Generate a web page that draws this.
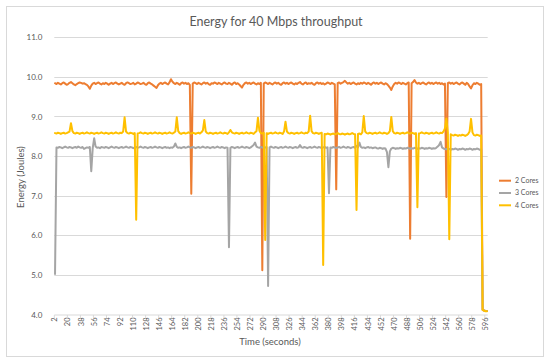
<!DOCTYPE html>
<html lang="en">
  <head>
    <meta charset="utf-8" />
    <title>Energy for 40 Mbps throughput</title>
    <script src="https://d3js.org/d3.v7.min.js"></script>
    <style type="text/css">
      body {
        margin: 0;
        background: #fff;
      }
      text {
        font-family: Lato, "Open Sans", sans-serif;
        fill: #595959;
      }
    </style>
  </head>
  <body>
    <script type="text/javascript">
      // time in seconds, one reading every 2 s
      var times = d3.range(2, 599, 2);
      var xTickLabels = d3.range(2, 597, 18);
      var yTickLabels = [4, 5, 6, 7, 8, 9, 10, 11];
      var seriesNames = ["2 Cores", "3 Cores", "4 Cores"];
      var seriesColors = ["#ED7D31", "#A5A5A5", "#FFC000"];

      var cores2 = [
        9.84, 9.82, 9.85, 9.83, 9.81, 9.84, 9.86, 9.83, 9.80, 9.82, 9.85, 9.87, 9.84, 9.81, 9.79, 9.82, 9.84, 9.86, 9.85, 9.83,
        9.84, 9.82, 9.80, 9.76, 9.70, 9.78, 9.83, 9.85, 9.82, 9.84, 9.86, 9.83, 9.81, 9.84, 9.82, 9.85, 9.83, 9.80, 9.83, 9.85,
        9.82, 9.84, 9.86, 9.83, 9.81, 9.83, 9.85, 9.82, 9.80, 9.84, 9.86, 9.84, 9.82, 9.83, 9.85, 9.81, 9.83, 9.86, 9.84, 9.82,
        9.83, 9.85, 9.82, 9.80, 9.84, 9.86, 9.83, 9.81, 9.78, 9.75, 9.72, 9.79, 9.83, 9.85, 9.82, 9.84, 9.86, 9.83, 9.81, 9.86,
        9.94, 9.88, 9.84, 9.82, 9.85, 9.83, 9.80, 9.84, 9.86, 9.83, 9.85, 9.82, 9.84, 9.80, 7.05, 9.83, 9.86, 9.84, 9.82, 9.85,
        9.83, 9.81, 9.84, 9.86, 9.83, 9.85, 9.82, 9.80, 9.84, 9.83, 9.86, 9.84, 9.82, 9.85, 9.83, 9.81, 9.84, 9.86, 9.83, 9.82,
        9.85, 9.83, 9.80, 9.84, 9.86, 9.82, 9.84, 9.81, 9.77, 9.73, 9.80, 9.84, 9.86, 9.83, 9.85, 9.82, 9.84, 9.86, 9.83, 9.81,
        9.84, 9.82, 9.85, 5.12, 9.83, 9.86, 9.84, 9.82, 9.85, 9.83, 9.81, 9.84, 9.86, 9.83, 9.85, 9.82, 9.80, 9.84, 9.86, 9.83,
        9.85, 9.82, 9.84, 9.86, 9.83, 9.81, 9.84, 9.82, 9.85, 9.87, 9.83, 9.81, 9.84, 9.86, 9.82, 9.84, 9.83, 9.85, 9.82, 9.80,
        9.84, 9.86, 9.83, 9.85, 9.82, 9.84, 9.81, 9.83, 9.86, 9.84, 9.82, 9.85, 9.83, 9.81, 7.16, 9.84, 9.86, 9.83, 9.85, 9.87,
        9.90, 9.86, 9.83, 9.85, 9.82, 9.84, 9.86, 9.83, 9.81, 9.84, 9.82, 9.85, 9.83, 9.86, 9.84, 9.82, 9.85, 9.83, 9.80, 9.84,
        9.86, 9.83, 9.85, 9.82, 9.84, 9.86, 9.83, 9.81, 9.84, 9.82, 9.78, 9.73, 9.67, 9.76, 9.82, 9.85, 9.83, 9.86, 9.84, 9.82,
        9.85, 9.83, 9.81, 9.84, 9.86, 5.91, 9.84, 9.87, 9.92, 9.86, 9.83, 9.85, 9.82, 9.84, 9.86, 9.83, 9.81, 9.84, 9.86, 9.83,
        9.85, 9.82, 9.84, 9.86, 9.83, 9.85, 9.82, 9.84, 9.81, 9.83, 6.97, 9.84, 9.86, 9.83, 9.85, 9.82, 9.84, 9.86, 9.83, 9.81,
        9.84, 9.86, 9.83, 9.80, 9.85, 9.82, 9.76, 9.71, 9.79, 9.84, 9.82, 9.85, 9.83, 9.80, 9.82, 4.12, 4.10, 4.09, 4.09
      ];

      var cores3 = [
        5.02, 8.22, 8.21, 8.23, 8.22, 8.20, 8.22, 8.24, 8.22, 8.21, 8.23, 8.22, 8.20, 8.22, 8.23, 8.21, 8.24, 8.22, 8.21, 8.23,
        8.18, 8.20, 8.22, 8.21, 8.23, 7.62, 8.20, 8.45, 8.24, 8.21, 8.22, 8.20, 8.23, 8.22, 8.21, 8.23, 8.22, 8.20, 8.22, 8.24,
        8.22, 8.21, 8.23, 8.22, 8.20, 8.22, 8.23, 8.21, 8.22, 8.24, 8.22, 8.21, 8.23, 8.22, 8.20, 8.22, 8.23, 8.21, 8.22, 8.24,
        8.22, 8.21, 8.23, 8.22, 8.20, 8.22, 8.23, 8.21, 8.22, 8.24, 8.22, 8.21, 8.23, 8.22, 8.20, 8.22, 8.23, 8.21, 8.22, 8.20,
        8.22, 8.21, 8.24, 8.32, 8.23, 8.21, 8.22, 8.20, 8.22, 8.23, 8.21, 8.22, 8.24, 8.22, 8.21, 8.23, 8.22, 8.20, 8.22, 8.23,
        8.21, 8.22, 8.24, 8.22, 8.21, 8.23, 8.22, 8.20, 8.22, 8.23, 8.21, 8.22, 8.24, 8.22, 8.21, 8.23, 8.22, 8.20, 8.22, 8.21,
        5.70, 8.21, 8.23, 8.22, 8.20, 8.22, 8.23, 8.21, 8.22, 8.24, 8.22, 8.21, 8.23, 8.22, 8.20, 8.22, 8.25, 8.28, 8.34, 8.24,
        8.22, 8.21, 8.23, 8.22, 8.20, 8.22, 8.23, 4.72, 8.22, 8.24, 8.22, 8.21, 8.23, 8.22, 8.20, 8.22, 8.23, 8.21, 8.22, 8.24,
        8.22, 8.21, 8.23, 8.22, 8.20, 8.22, 8.23, 8.21, 8.22, 8.28, 8.22, 8.21, 8.23, 8.22, 8.20, 8.22, 8.23, 8.21, 8.22, 8.24,
        8.22, 8.21, 8.23, 8.22, 8.20, 8.22, 8.23, 8.21, 8.22, 7.06, 8.22, 8.21, 8.23, 8.22, 8.20, 8.22, 8.23, 8.21, 8.22, 8.24,
        8.22, 8.21, 8.23, 8.22, 8.20, 8.22, 8.23, 8.21, 8.26, 8.22, 8.34, 8.23, 8.21, 8.22, 8.20, 8.22, 8.23, 8.21, 8.22, 8.20,
        8.21, 8.22, 8.20, 8.19, 8.21, 8.20, 8.18, 8.20, 8.19, 8.10, 7.72, 8.12, 8.19, 8.21, 8.20, 8.18, 8.20, 8.19, 8.21, 8.20,
        8.18, 8.20, 8.19, 8.21, 8.20, 8.18, 8.20, 8.19, 8.21, 8.20, 8.18, 8.20, 8.19, 8.21, 8.20, 8.18, 8.20, 8.19, 8.21, 8.20,
        8.18, 8.20, 8.19, 8.21, 8.24, 8.28, 8.36, 8.22, 8.19, 8.18, 8.17, 8.19, 8.18, 8.16, 8.18, 8.17, 8.19, 8.18, 8.16, 8.18,
        8.17, 8.19, 8.18, 8.16, 8.18, 8.17, 8.19, 8.18, 8.16, 8.18, 8.17, 8.19, 8.18, 8.16, 8.17, 4.12, 4.10, 4.09, 4.09
      ];

      var cores4 = [
        8.58, 8.57, 8.59, 8.58, 8.56, 8.58, 8.59, 8.57, 8.58, 8.60, 8.62, 8.83, 8.63, 8.58, 8.57, 8.59, 8.58, 8.56, 8.58, 8.59,
        8.57, 8.58, 8.60, 8.58, 8.57, 8.59, 8.58, 8.56, 8.58, 8.59, 8.57, 8.58, 8.60, 8.58, 8.57, 8.59, 8.58, 8.56, 8.58, 8.59,
        8.57, 8.58, 8.60, 8.58, 8.57, 8.59, 8.58, 8.62, 8.98, 8.62, 8.58, 8.57, 8.59, 8.58, 8.56, 8.58, 6.39, 8.57, 8.58, 8.60,
        8.58, 8.57, 8.59, 8.58, 8.56, 8.58, 8.59, 8.57, 8.58, 8.60, 8.58, 8.57, 8.59, 8.58, 8.56, 8.58, 8.59, 8.57, 8.58, 8.60,
        8.58, 8.57, 8.59, 8.62, 8.98, 8.63, 8.58, 8.56, 8.58, 8.59, 8.57, 8.58, 8.60, 8.58, 8.57, 8.59, 8.58, 8.56, 8.58, 8.59,
        8.57, 8.60, 8.65, 8.91, 8.62, 8.58, 8.57, 8.59, 8.58, 8.56, 8.58, 8.59, 8.57, 8.58, 8.60, 8.58, 8.57, 8.59, 8.58, 8.56,
        8.60, 8.66, 8.60, 8.58, 8.57, 8.59, 8.58, 8.56, 8.58, 8.59, 8.57, 8.58, 8.60, 8.58, 8.57, 8.59, 8.58, 8.56, 8.60, 8.63,
        8.97, 8.64, 8.58, 8.57, 8.59, 5.88, 8.58, 8.56, 8.58, 8.59, 8.57, 8.58, 8.60, 8.58, 8.57, 8.59, 8.58, 8.56, 8.62, 8.87,
        8.62, 8.58, 8.57, 8.59, 8.58, 8.56, 8.58, 8.59, 8.57, 8.58, 8.60, 8.58, 8.57, 8.59, 8.58, 8.62, 9.02, 8.63, 8.58, 8.57,
        8.59, 8.58, 8.56, 8.58, 8.59, 5.25, 8.56, 8.55, 8.57, 8.56, 8.54, 8.56, 8.57, 8.55, 8.56, 8.58, 8.56, 8.55, 8.57, 8.56,
        8.54, 8.56, 8.57, 8.55, 8.56, 8.58, 8.56, 8.55, 6.64, 8.56, 8.57, 8.55, 8.60, 9.01, 8.62, 8.58, 8.57, 8.59, 8.58, 8.56,
        8.58, 8.59, 8.57, 8.58, 8.60, 8.58, 8.57, 8.59, 8.58, 8.56, 8.58, 8.63, 8.99, 8.63, 8.58, 8.57, 8.59, 8.58, 8.56, 8.58,
        8.59, 8.57, 8.58, 8.60, 8.58, 8.57, 8.59, 8.58, 8.56, 8.58, 6.71, 8.57, 8.58, 8.60, 8.58, 8.57, 8.59, 8.58, 8.56, 8.58,
        8.59, 8.57, 8.58, 8.60, 8.58, 8.57, 8.59, 8.58, 8.62, 8.70, 8.95, 8.60, 5.90, 8.55, 8.53, 8.52, 8.54, 8.53, 8.51, 8.53,
        8.52, 8.54, 8.53, 8.51, 8.53, 8.56, 8.62, 8.94, 8.60, 8.53, 8.52, 8.54, 8.53, 8.51, 8.52, 4.12, 4.10, 4.08, 4.08
      ];

      var allSeries = [cores2, cores3, cores4];

      var w = 550;
      var h = 363;
      var plot = { left: 54.3, right: 487.7, top: 37.3, bottom: 314.5 };

      var svg = d3
        .select("body")
        .append("svg")
        .attr("width", w)
        .attr("height", h);

      svg
        .append("rect")
        .attr("width", w)
        .attr("height", h)
        .attr("fill", "#fff");

      // chart frame
      svg
        .append("rect")
        .attr("x", 6.5)
        .attr("y", 6.5)
        .attr("width", 537)
        .attr("height", 350)
        .attr("fill", "none")
        .attr("stroke", "#d9d9d9");

      var xScale = d3
        .scaleBand()
        .domain(times)
        .range([plot.left, plot.right]);

      var yScale = d3
        .scaleLinear()
        .domain([4, 11])
        .range([plot.bottom, plot.top]);

      var xMid = function (t) {
        return xScale(t) + xScale.bandwidth() / 2;
      };

      // gridlines
      svg
        .append("g")
        .selectAll("line")
        .data(yTickLabels.slice(1))
        .enter()
        .append("line")
        .attr("x1", plot.left)
        .attr("x2", plot.right)
        .attr("y1", function (d) {
          return Math.round(yScale(d)) + 0.5;
        })
        .attr("y2", function (d) {
          return Math.round(yScale(d)) + 0.5;
        })
        .attr("stroke", "#d9d9d9")
        .attr("stroke-width", 1);

      // y axis labels
      var yAxis = svg
        .append("g")
        .attr("transform", "translate(" + (plot.left - 9) + ",0)")
        .call(
          d3
            .axisLeft(yScale)
            .tickValues(yTickLabels)
            .tickFormat(d3.format(".1f"))
            .tickSize(0)
        );
      yAxis.select(".domain").remove();
      yAxis
        .selectAll("text")
        .attr("font-size", "8px")
        .attr("font-family", "Lato, sans-serif")
        .attr("fill", "#595959");

      // x axis
      var xAxis = svg
        .append("g")
        .attr("transform", "translate(0," + plot.bottom + ")")
        .call(
          d3
            .axisBottom(xScale)
            .tickValues(xTickLabels)
            .tickSize(0)
            .tickPadding(0)
        );
      xAxis
        .select(".domain")
        .attr("stroke", "#d9d9d9")
        .attr("d", "M" + plot.left + ",0.5H" + plot.right);
      xAxis
        .selectAll("text")
        .attr("font-size", "7.5px")
        .attr("font-family", "Lato, sans-serif")
        .attr("fill", "#595959")
        .attr("text-anchor", "end")
        .attr("dy", "0.32em")
        .attr("transform", "translate(0,3) rotate(-90)");

      // x tick marks on category boundaries
      xAxis
        .selectAll(".cat-tick")
        .data(xTickLabels)
        .enter()
        .append("line")
        .attr("class", "cat-tick")
        .attr("x1", function (d) {
          return xScale(d);
        })
        .attr("x2", function (d) {
          return xScale(d);
        })
        .attr("y1", 0.5)
        .attr("y2", 3.5)
        .attr("stroke", "#d9d9d9");

      // lines
      var line = d3
        .line()
        .x(function (d, i) {
          return xMid(times[i]);
        })
        .y(function (d) {
          return yScale(d);
        });

      svg
        .append("g")
        .selectAll("path")
        .data(allSeries)
        .enter()
        .append("path")
        .attr("d", line)
        .attr("fill", "none")
        .attr("stroke", function (d, i) {
          return seriesColors[i];
        })
        .attr("stroke-width", 2)
        .attr("stroke-linejoin", "round")
        .attr("stroke-linecap", "round");

      // title
      svg
        .append("text")
        .attr("x", 276)
        .attr("y", 26)
        .attr("text-anchor", "middle")
        .attr("font-size", "12.5px")
        .text("Energy for 40 Mbps throughput");

      // axis titles
      svg
        .append("text")
        .attr("transform", "translate(24,177) rotate(-90)")
        .attr("text-anchor", "middle")
        .attr("font-size", "9.5px")
        .text("Energy (Joules)");

      svg
        .append("text")
        .attr("x", 270)
        .attr("y", 345)
        .attr("text-anchor", "middle")
        .attr("font-size", "9.5px")
        .text("Time (seconds)");

      // legend
      var legend = svg
        .append("g")
        .selectAll("g")
        .data(seriesNames)
        .enter()
        .append("g")
        .attr("transform", function (d, i) {
          return "translate(499," + (180.7 + i * 12.3) + ")";
        });
      legend
        .append("line")
        .attr("x1", 0)
        .attr("x2", 12)
        .attr("stroke", function (d, i) {
          return seriesColors[i];
        })
        .attr("stroke-width", 2);
      legend
        .append("text")
        .attr("x", 16)
        .attr("dy", "0.35em")
        .attr("font-size", "7px")
        .text(function (d) {
          return d;
        });
    </script>
  </body>
</html>
